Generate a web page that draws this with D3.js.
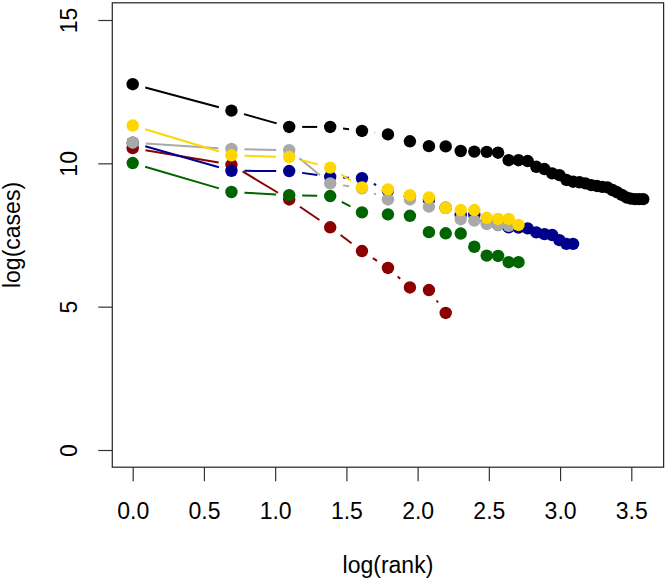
<!DOCTYPE html>
<html><head><meta charset="utf-8">
<script src="https://cdn.jsdelivr.net/npm/d3@7"></script>
<style>
html,body{margin:0;padding:0;background:#fff;}
text{font-family:"Liberation Sans",Arial,sans-serif;fill:#000;}
</style></head>
<body>
<svg id="chart" width="666" height="584"></svg>
<script>
// log(cases) by rank for each series (x = log(rank))
const blackSeries = [12.76,11.84,11.27,11.27,11.13,11.01,10.77,10.60,10.59,10.43,10.41,10.40,10.37,10.11,10.11,10.08,9.88,9.80,9.65,9.59,9.42,9.36,9.34,9.30,9.24,9.21,9.18,9.16,9.07,8.99,8.90,8.81,8.77,8.75,8.75,8.75];
const redSeries   = [10.53,9.95,8.74,7.77,6.94,6.35,5.67,5.58,4.78];
const greenSeries = [10.01,9.00,8.89,8.86,8.29,8.22,8.17,7.60,7.56,7.55,7.09,6.78,6.77,6.55,6.55];
const blueSeries  = [10.72,9.74,9.73,9.53,9.48,9.05,8.85,8.72,8.45,8.20,8.20,8.00,7.85,7.77,7.76,7.73,7.59,7.53,7.50,7.32,7.19,7.19];
const graySeries  = [10.72,10.50,10.46,9.30,9.13,8.74,8.74,8.49,8.45,8.05,8.00,7.88,7.85,7.82];
const goldSeries  = [11.32,10.28,10.22,9.85,9.16,9.09,8.89,8.81,8.45,8.37,8.37,8.10,8.06,8.06,7.85];
const seriesColors = ["#000000","#8B0000","#006400","#00008B","#A9A9A9","#FFD700"];
const xTicks = [0,0.5,1,1.5,2,2.5,3,3.5];
const yTicks = [0,5,10,15];
const xTitle = "log(rank)";
const yTitle = "log(cases)";

const allSeries = [blackSeries, redSeries, greenSeries, blueSeries, graySeries, goldSeries];

const svg = d3.select("#chart");
const xmax = d3.max(allSeries, s => Math.log(s.length));
const x = d3.scaleLinear().domain([0, xmax]).range([132.7, 643.2]);
const y = d3.scaleLinear().domain([0, 15]).range([450, 20]);
const boxL = x(-0.04*xmax), boxR = x(xmax*1.04);
const boxT = y(15.6), boxB = y(-0.6);

// axes
const xAxis = d3.axisBottom(x).tickValues(xTicks).tickFormat(d3.format(".1f")).tickSize(14).tickPadding(21.5);
const gx = svg.append("g").attr("transform", `translate(0,${boxB})`).call(xAxis);
gx.select(".domain").remove();
gx.selectAll("line").attr("stroke","#333").attr("stroke-width",1.2);
gx.selectAll("text").attr("font-size","23px").attr("fill","#000").attr("font-family",null);

const yAxis = d3.axisLeft(y).tickValues(yTicks).tickFormat(d3.format("d")).tickSize(14);
const gy = svg.append("g").attr("transform", `translate(${boxL},0)`).call(yAxis);
gy.select(".domain").remove();
gy.selectAll("line").attr("stroke","#333").attr("stroke-width",1.2);
gy.selectAll("text").attr("font-size","23px").attr("fill","#000")
  .attr("text-anchor","middle").attr("x",0).attr("dy",null)
  .attr("y",-35.3).attr("transform","rotate(-90)");
gx.attr("font-family",null); gy.attr("font-family",null);

// box
svg.append("rect").attr("x",boxL).attr("y",boxT).attr("width",boxR-boxL).attr("height",boxB-boxT)
  .attr("fill","none").attr("stroke","#222").attr("stroke-width",1.2);

// titles
svg.append("text").attr("x",(boxL+boxR)/2).attr("y",573).attr("text-anchor","middle")
  .attr("font-size","23px").text(xTitle);
svg.append("text").attr("transform",`translate(20,${(boxT+boxB)/2}) rotate(-90)`)
  .attr("text-anchor","middle").attr("font-size","23px").text(yTitle);

// series, R type="b"
const gap = 13, r = 6.2;
allSeries.forEach((s, i) => {
  const col = seriesColors[i];
  const pts = s.map((v, k) => [x(Math.log(k+1)), y(v)]);
  const g = svg.append("g");
  for (let k = 0; k < pts.length-1; k++) {
    const [x1,y1] = pts[k], [x2,y2] = pts[k+1];
    const dx = x2-x1, dy = y2-y1, L = Math.hypot(dx,dy);
    if (L <= 2*gap) continue;
    const ux = dx/L, uy = dy/L;
    g.append("line").attr("x1",x1+ux*gap).attr("y1",y1+uy*gap)
      .attr("x2",x2-ux*gap).attr("y2",y2-uy*gap)
      .attr("stroke",col).attr("stroke-width",2);
  }
  g.selectAll("circle").data(pts).join("circle")
    .attr("cx",d=>d[0]).attr("cy",d=>d[1]).attr("r",r).attr("fill",col);
});
</script>
</body></html>
